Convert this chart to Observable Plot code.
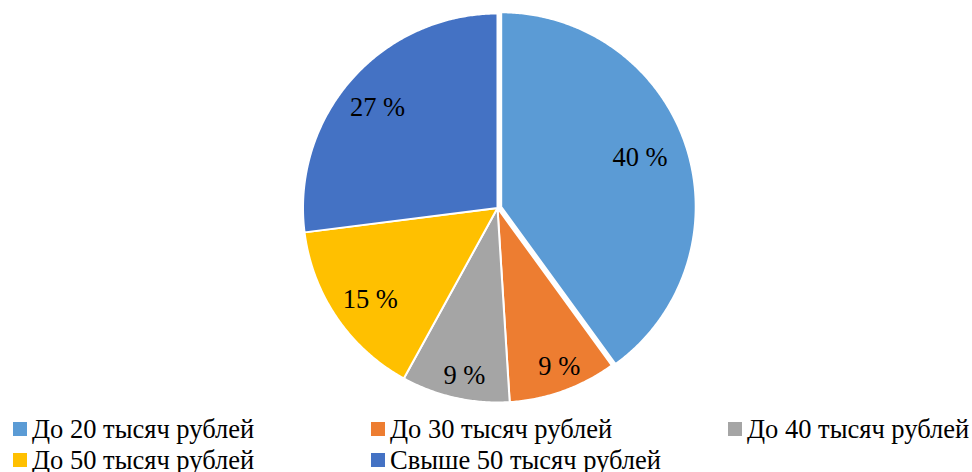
<!DOCTYPE html>
<html>
<head>
<meta charset="utf-8">
<script src="https://cdn.jsdelivr.net/npm/d3@7"></script>
<script src="https://cdn.jsdelivr.net/npm/@observablehq/plot@0.6"></script>
<style>
  html, body { margin: 0; padding: 0; background: #fff; }
  #chart { position: relative; width: 972px; height: 472px; overflow: hidden;
           font-family: 'Liberation Serif', serif; }
  #chart svg { position: absolute; left: 0; top: 0; }
  .legend-item { position: absolute; height: 28px; line-height: 28px; font-size: 26.5px;
                 font-family: 'Liberation Serif', serif; color: #000; white-space: nowrap; }
  .legend-swatch { position: absolute; left: 0; width: 14px; height: 14px; }
  .legend-text { position: absolute; left: 19px; top: 0; }
</style>
</head>
<body>
<div id="chart"></div>
<script>
// Income groups and their shares, in percent
const categories = [
  "До 20 тысяч рублей",
  "До 30 тысяч рублей",
  "До 40 тысяч рублей",
  "До 50 тысяч рублей",
  "Свыше 50 тысяч рублей"
];
const shares = [40, 9, 9, 15, 27];
const colors = ["#5B9BD5", "#ED7D31", "#A5A5A5", "#FFC000", "#4472C4"];
const labels = ["40 %", "9 %", "9 %", "15 %", "27 %"];

// Pie geometry in unit coordinates (radius 1), clockwise from 12 o'clock
const arcs = d3.pie().sort(null).value(d => d)(shares);
const explode = [0.02, 0, 0, 0, 0];

// label distance from the centre: narrow slices push it toward the rim
function labelRadius(share) {
  if (share < 10) return 0.877;
  if (share < 30) return 0.805;
  return 0.757;
}

const slicePoints = [];
const labelPoints = [];
arcs.forEach((a, i) => {
  const mid = (a.startAngle + a.endAngle) / 2;
  const ox = explode[i] * Math.sin(mid);
  const oy = explode[i] * Math.cos(mid);
  const key = categories[i];
  slicePoints.push({key, x: ox, y: oy});
  const steps = Math.max(2, Math.ceil((a.endAngle - a.startAngle) / (Math.PI / 360)));
  for (let s = 0; s <= steps; s++) {
    const t = a.startAngle + (a.endAngle - a.startAngle) * s / steps;
    slicePoints.push({key, x: ox + Math.sin(t), y: oy + Math.cos(t)});
  }
  slicePoints.push({key, x: ox, y: oy});
  const r = labelRadius(shares[i]);
  const la = mid - 0.025;
  labelPoints.push({x: ox + r * Math.sin(la), y: oy + r * Math.cos(la), text: labels[i]});
});

const cx = 497, cy = 207.5, R = 194.5;

const plot = Plot.plot({
  width: 972,
  height: 412,
  margin: 0,
  style: {fontFamily: "'Liberation Serif', serif", background: "transparent"},
  x: {domain: [-1, 1], range: [cx - R, cx + R], axis: null},
  y: {domain: [-1, 1], range: [cy + R, cy - R], axis: null},
  color: {domain: categories, range: colors},
  marks: [
    Plot.line(slicePoints, {
      x: "x", y: "y", z: "key", fill: "key",
      stroke: "white", strokeWidth: 2, strokeLinejoin: "round", curve: "linear"
    }),
    Plot.text(labelPoints, {
      x: "x", y: "y", text: "text",
      fontSize: 26.5, fontFamily: "'Liberation Serif', serif", fill: "#000", stroke: null
    })
  ]
});

const chart = document.getElementById("chart");
chart.appendChild(plot);

// Legend below the pie: three columns, two rows
const color = plot.scale("color");
const colLeft = [13, 371, 728];
const rowTop = [415.3, 446.3];
categories.forEach((c, i) => {
  const item = document.createElement("div");
  item.className = "legend-item";
  item.style.left = colLeft[i % 3] + "px";
  item.style.top = rowTop[Math.floor(i / 3)] + "px";
  const sw = document.createElement("div");
  sw.className = "legend-swatch";
  sw.style.background = color.apply(c);
  sw.style.top = "6.5px";
  const tx = document.createElement("span");
  tx.className = "legend-text";
  tx.textContent = c;
  item.appendChild(sw);
  item.appendChild(tx);
  chart.appendChild(item);
});
</script>
</body>
</html>
